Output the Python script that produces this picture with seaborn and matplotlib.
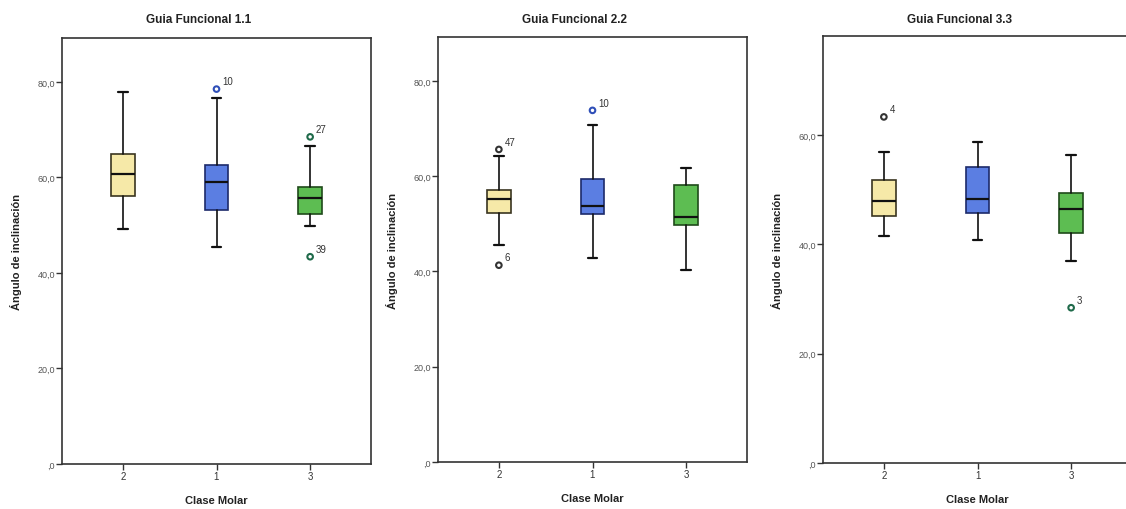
import matplotlib
matplotlib.use("Agg")
import matplotlib.pyplot as plt
import seaborn as sns
import pandas as pd

sns.set_style("ticks")
plt.rcParams['font.family'] = ['Liberation Sans', 'DejaVu Sans']

# ---------------- data ----------------
categories = ["2", "1", "3"]
panel_titles = ["Guia Funcional 1.1", "Guia Funcional 2.2", "Guia Funcional 3.3"]

# Guia Funcional 1.1
g11_whislo = [49.3, 45.4, 49.8]
g11_q1 = [56.2, 53.1, 52.4]
g11_med = [60.7, 59.1, 55.7]
g11_q3 = [65.0, 62.6, 58.0]
g11_whishi = [77.8, 76.7, 66.6]
g11_out_cat = ["1", "3", "3"]
g11_out_val = [78.5, 68.5, 43.4]
g11_out_id = ["10", "27", "39"]

# Guia Funcional 2.2
g22_whislo = [45.6, 42.8, 40.3]
g22_q1 = [52.3, 52.0, 49.7]
g22_med = [55.2, 53.7, 51.4]
g22_q3 = [57.1, 59.4, 58.2]
g22_whishi = [64.3, 70.8, 61.7]
g22_out_cat = ["2", "2", "1"]
g22_out_val = [65.6, 41.3, 73.8]
g22_out_id = ["47", "6", "10"]

# Guia Funcional 3.3
g33_whislo = [41.6, 40.8, 37.0]
g33_q1 = [45.2, 45.8, 42.1]
g33_med = [48.0, 48.2, 46.5]
g33_q3 = [51.8, 54.1, 49.3]
g33_whishi = [56.8, 58.7, 56.3]
g33_out_cat = ["2", "3"]
g33_out_val = [63.3, 28.4]
g33_out_id = ["4", "3"]

y_ticks = [0, 20, 40, 60, 80]
y_ticklabels = [",0", "20,0", "40,0", "60,0", "80,0"]
y_max = [89.2, 89.2, 78.1]

# ---------------- style ----------------
box_fill = {"2": "#F6E9A8", "1": "#5B7EE2", "3": "#5DBD52"}
box_edge = {"2": "#3a3520", "1": "#1c2a6a", "3": "#1f4a1a"}
out_colors = {"2": "#333333", "1": "#2f4fb8", "3": "#1f6a4a"}

fig = plt.figure(figsize=(11.26, 5.10), dpi=100)

W, H = 1126.0, 510.0
axes_px = [  # left, top, right, bottom in pixels
    (62, 39, 371, 465),
    (438, 38, 747, 463),
    (823, 37, 1132, 464),
]

panels = [
    (g11_whislo, g11_q1, g11_med, g11_q3, g11_whishi, g11_out_cat, g11_out_val, g11_out_id),
    (g22_whislo, g22_q1, g22_med, g22_q3, g22_whishi, g22_out_cat, g22_out_val, g22_out_id),
    (g33_whislo, g33_q1, g33_med, g33_q3, g33_whishi, g33_out_cat, g33_out_val, g33_out_id),
]

for p, (lo, q1, med, q3, hi, oc, ov, oid) in enumerate(panels):
    l, t, r, b = axes_px[p]
    ax = fig.add_axes([l / W, 1 - b / H, (r - l) / W, (b - t) / H])
    stats = []
    for i, c in enumerate(categories):
        stats.append(dict(label=c, whislo=lo[i], q1=q1[i], med=med[i],
                          q3=q3[i], whishi=hi[i], fliers=[]))
    bp = ax.bxp(stats, positions=range(len(categories)), widths=0.25,
                capwidths=0.1, patch_artist=True, showfliers=False,
                whiskerprops=dict(color="#111111", lw=1.2),
                capprops=dict(color="#111111", lw=1.6),
                medianprops=dict(color="#111111", lw=1.6),
                boxprops=dict(lw=1.2))
    for i, c in enumerate(categories):
        bp["boxes"][i].set_facecolor(box_fill[c])
        bp["boxes"][i].set_edgecolor(box_edge[c])

    # outliers
    df = pd.DataFrame({"cat": oc, "val": ov})
    df["x"] = [categories.index(c) for c in oc]
    sns.scatterplot(data=df, x="x", y="val", hue="cat", palette=out_colors,
                    marker="o", s=16, linewidth=1.5,
                    legend=False, ax=ax, zorder=5)
    for coll in ax.collections:
        fc = coll.get_facecolors()
        if len(fc):
            coll.set_edgecolors(fc)
            coll.set_facecolors("none")
    for xi, yv, lab in zip(df["x"], ov, oid):
        ax.annotate(lab, (xi, yv), xytext=(4, 2), textcoords="offset points",
                    fontsize=7, color="#333333", ha="left", va="bottom")

    ax.set_xlim(-0.65, 2.65)
    ax.set_ylim(0, y_max[p])
    n_t = int(y_max[p] // 20) + 1
    ax.set_xticks(range(len(categories)))
    ax.set_xticklabels(categories, fontsize=7, color="#333333")
    ax.set_yticks(y_ticks[:n_t])
    ax.set_yticklabels(y_ticklabels[:n_t], fontsize=6.5, color="#555555")
    ax.tick_params(axis="both", length=4, width=1, color="#333333", pad=1)
    ax.set_xlabel("Clase Molar", fontsize=8, fontweight="bold", labelpad=10, color="#222222")
    ax.set_ylabel("Ángulo de inclinación", fontsize=8, fontweight="bold", labelpad=11, color="#222222")
    for s in ax.spines.values():
        s.set_color("#333333")
        s.set_linewidth(1.2)
    cx = (l + r) / 2 - 18
    fig.text(cx / W, 1 - 20 / H, panel_titles[p], ha="center", va="center",
             fontsize=8.5, fontweight="bold", color="#222222")

fig.savefig("out.png", dpi=100, facecolor="white")
